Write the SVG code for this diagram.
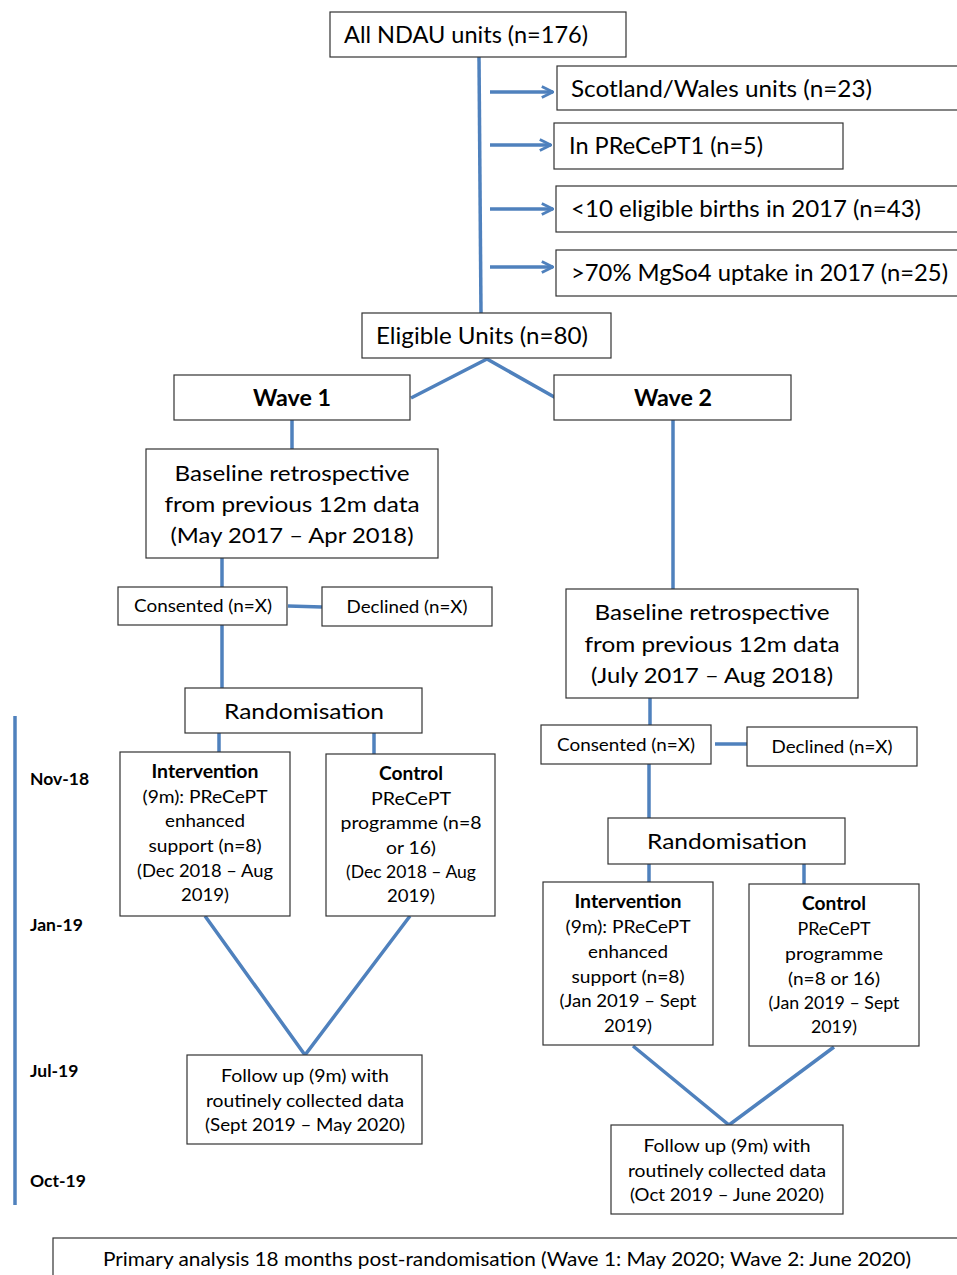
<svg xmlns="http://www.w3.org/2000/svg" width="957" height="1275" viewBox="0 0 957 1275">
<style>
.b{fill:#fff;stroke:#333;stroke-width:1.2}
.c{fill:none;stroke:#4F81BD;stroke-width:3.5}
text{font-family:Lato,"Liberation Sans",sans-serif;fill:#000}
.l{font-size:23px}
.m{font-size:18px;text-anchor:middle}
.t{font-size:22px;text-anchor:middle}
.bo{font-weight:bold}
.tl{font-size:17.5px;font-weight:bold}
</style>
<defs>
<marker id="ah" viewBox="0 0 10 10" refX="9" refY="5" markerWidth="4" markerHeight="4" orient="auto" markerUnits="strokeWidth">
<path d="M1,1 L9,5 L1,9" fill="none" stroke="#4F81BD" stroke-width="2"/>
</marker>
</defs>
<rect width="957" height="1275" fill="#fff"/>
<g id="connectors">
<line class="c" x1="479" y1="57" x2="481" y2="313"/>
<line class="c" x1="490" y1="92" x2="553" y2="92" marker-end="url(#ah)"/>
<line class="c" x1="490" y1="145" x2="551" y2="145" marker-end="url(#ah)"/>
<line class="c" x1="490" y1="209" x2="553" y2="209" marker-end="url(#ah)"/>
<line class="c" x1="490" y1="267" x2="553" y2="267" marker-end="url(#ah)"/>
<polyline class="c" points="411,398 487,359 556,398"/>
<line class="c" x1="292" y1="420" x2="292" y2="449"/>
<line class="c" x1="222" y1="558" x2="222" y2="587"/>
<line class="c" x1="288" y1="606" x2="322" y2="607"/>
<line class="c" x1="222" y1="625" x2="222" y2="688"/>
<line class="c" x1="219" y1="733" x2="219" y2="752"/>
<line class="c" x1="374" y1="733" x2="374" y2="754"/>
<polyline class="c" points="205,916 305,1055 410,916"/>
<line class="c" x1="673" y1="420" x2="673" y2="589"/>
<line class="c" x1="650" y1="698" x2="650" y2="725"/>
<line class="c" x1="715" y1="744" x2="749" y2="744"/>
<line class="c" x1="649" y1="764" x2="649" y2="818"/>
<line class="c" x1="649" y1="864" x2="649" y2="882"/>
<line class="c" x1="804" y1="864" x2="804" y2="884"/>
<polyline class="c" points="633,1046 729,1125 834,1047"/>
</g>
<g id="timeline">
<line class="c" x1="15" y1="716" x2="15" y2="1205"/>
<text class="tl" x="30" y="785">Nov-18</text>
<text class="tl" x="30" y="931">Jan-19</text>
<text class="tl" x="30" y="1077">Jul-19</text>
<text class="tl" x="30" y="1187">Oct-19</text>
</g>
<g id="all">
<rect class="b" x="330" y="12" width="296" height="45"/>
<text class="l" x="344" y="43" textLength="244" lengthAdjust="spacingAndGlyphs">All NDAU units (n=176)</text>
</g>
<g id="ex1">
<rect class="b" x="557" y="66" width="405" height="44"/>
<text class="l" x="571" y="97" textLength="301" lengthAdjust="spacingAndGlyphs">Scotland/Wales units (n=23)</text>
</g>
<g id="ex2">
<rect class="b" x="554" y="123" width="289" height="46"/>
<text class="l" x="569" y="154" textLength="194" lengthAdjust="spacingAndGlyphs">In PReCePT1 (n=5)</text>
</g>
<g id="ex3">
<rect class="b" x="556" y="186" width="406" height="46"/>
<text class="l" x="571" y="217" textLength="350" lengthAdjust="spacingAndGlyphs">&lt;10 eligible births in 2017 (n=43)</text>
</g>
<g id="ex4">
<rect class="b" x="556" y="250" width="406" height="46"/>
<text class="l" x="571" y="281" textLength="377" lengthAdjust="spacingAndGlyphs">&gt;70% MgSo4 uptake in 2017 (n=25)</text>
</g>
<g id="eligible">
<rect class="b" x="362" y="313" width="249" height="45"/>
<text class="l" x="376" y="344" textLength="212" lengthAdjust="spacingAndGlyphs">Eligible Units (n=80)</text>
</g>
<g id="wave1">
<rect class="b" x="174" y="375" width="236" height="45"/>
<text class="t bo" x="292" y="406" textLength="78" lengthAdjust="spacingAndGlyphs">Wave 1</text>
</g>
<g id="wave2">
<rect class="b" x="554" y="375" width="237" height="45"/>
<text class="t bo" x="673" y="406" textLength="78" lengthAdjust="spacingAndGlyphs">Wave 2</text>
</g>
<g id="base1">
<rect class="b" x="146" y="449" width="292" height="109"/>
<text class="t" x="292" y="481" textLength="235" lengthAdjust="spacingAndGlyphs">Baseline retrospective</text>
<text class="t" x="292" y="512" textLength="255" lengthAdjust="spacingAndGlyphs">from previous 12m data</text>
<text class="t" x="292" y="543" textLength="243" lengthAdjust="spacingAndGlyphs">(May 2017 – Apr 2018)</text>
</g>
<g id="cons1">
<rect class="b" x="118" y="587" width="169" height="38"/>
<text class="m" x="203" y="612" textLength="138" lengthAdjust="spacingAndGlyphs">Consented (n=X)</text>
</g>
<g id="decl1">
<rect class="b" x="322" y="587" width="170" height="39"/>
<text class="m" x="407" y="613" textLength="121" lengthAdjust="spacingAndGlyphs">Declined (n=X)</text>
</g>
<g id="rand1">
<rect class="b" x="185" y="688" width="237" height="45"/>
<text class="t" x="304" y="719" textLength="160" lengthAdjust="spacingAndGlyphs">Randomisation</text>
</g>
<g id="int1">
<rect class="b" x="120" y="752" width="170" height="164"/>
<text class="m bo" x="205" y="778" textLength="107" lengthAdjust="spacingAndGlyphs">Intervention</text>
<text class="m" x="205" y="803" textLength="125" lengthAdjust="spacingAndGlyphs">(9m): PReCePT</text>
<text class="m" x="205" y="827" textLength="80" lengthAdjust="spacingAndGlyphs">enhanced</text>
<text class="m" x="205" y="852" textLength="113" lengthAdjust="spacingAndGlyphs">support (n=8)</text>
<text class="m" x="205" y="877" textLength="136" lengthAdjust="spacingAndGlyphs">(Dec 2018 – Aug</text>
<text class="m" x="205" y="901" textLength="48" lengthAdjust="spacingAndGlyphs">2019)</text>
</g>
<g id="ctl1">
<rect class="b" x="326" y="754" width="169" height="162"/>
<text class="m bo" x="411" y="780" textLength="64" lengthAdjust="spacingAndGlyphs">Control</text>
<text class="m" x="411" y="805" textLength="80" lengthAdjust="spacingAndGlyphs">PReCePT</text>
<text class="m" x="411" y="829" textLength="141" lengthAdjust="spacingAndGlyphs">programme (n=8</text>
<text class="m" x="411" y="854" textLength="50" lengthAdjust="spacingAndGlyphs">or 16)</text>
<text class="m" x="411" y="878" textLength="130" lengthAdjust="spacingAndGlyphs">(Dec 2018 – Aug</text>
<text class="m" x="411" y="902" textLength="48" lengthAdjust="spacingAndGlyphs">2019)</text>
</g>
<g id="fu1">
<rect class="b" x="187" y="1055" width="235" height="89"/>
<text class="m" x="305" y="1082" textLength="168" lengthAdjust="spacingAndGlyphs">Follow up (9m) with</text>
<text class="m" x="305" y="1107" textLength="198" lengthAdjust="spacingAndGlyphs">routinely collected data</text>
<text class="m" x="305" y="1131" textLength="200" lengthAdjust="spacingAndGlyphs">(Sept 2019 – May 2020)</text>
</g>
<g id="base2">
<rect class="b" x="566" y="589" width="292" height="109"/>
<text class="t" x="712" y="620" textLength="235" lengthAdjust="spacingAndGlyphs">Baseline retrospective</text>
<text class="t" x="712" y="652" textLength="255" lengthAdjust="spacingAndGlyphs">from previous 12m data</text>
<text class="t" x="712" y="683" textLength="242" lengthAdjust="spacingAndGlyphs">(July 2017 – Aug 2018)</text>
</g>
<g id="cons2">
<rect class="b" x="541" y="725" width="170" height="39"/>
<text class="m" x="626" y="751" textLength="138" lengthAdjust="spacingAndGlyphs">Consented (n=X)</text>
</g>
<g id="decl2">
<rect class="b" x="747" y="727" width="170" height="39"/>
<text class="m" x="832" y="753" textLength="121" lengthAdjust="spacingAndGlyphs">Declined (n=X)</text>
</g>
<g id="rand2">
<rect class="b" x="608" y="818" width="237" height="46"/>
<text class="t" x="727" y="849" textLength="160" lengthAdjust="spacingAndGlyphs">Randomisation</text>
</g>
<g id="int2">
<rect class="b" x="543" y="882" width="170" height="163"/>
<text class="m bo" x="628" y="908" textLength="107" lengthAdjust="spacingAndGlyphs">Intervention</text>
<text class="m" x="628" y="933" textLength="125" lengthAdjust="spacingAndGlyphs">(9m): PReCePT</text>
<text class="m" x="628" y="958" textLength="80" lengthAdjust="spacingAndGlyphs">enhanced</text>
<text class="m" x="628" y="983" textLength="113" lengthAdjust="spacingAndGlyphs">support (n=8)</text>
<text class="m" x="628" y="1007" textLength="137" lengthAdjust="spacingAndGlyphs">(Jan 2019 – Sept</text>
<text class="m" x="628" y="1032" textLength="48" lengthAdjust="spacingAndGlyphs">2019)</text>
</g>
<g id="ctl2">
<rect class="b" x="749" y="884" width="170" height="162"/>
<text class="m bo" x="834" y="910" textLength="64" lengthAdjust="spacingAndGlyphs">Control</text>
<text class="m" x="834" y="935" textLength="73" lengthAdjust="spacingAndGlyphs">PReCePT</text>
<text class="m" x="834" y="960" textLength="98" lengthAdjust="spacingAndGlyphs">programme</text>
<text class="m" x="834" y="985" textLength="92" lengthAdjust="spacingAndGlyphs">(n=8 or 16)</text>
<text class="m" x="834" y="1009" textLength="131" lengthAdjust="spacingAndGlyphs">(Jan 2019 – Sept</text>
<text class="m" x="834" y="1033" textLength="46" lengthAdjust="spacingAndGlyphs">2019)</text>
</g>
<g id="fu2">
<rect class="b" x="611" y="1125" width="232" height="89"/>
<text class="m" x="727" y="1152" textLength="167" lengthAdjust="spacingAndGlyphs">Follow up (9m) with</text>
<text class="m" x="727" y="1177" textLength="198" lengthAdjust="spacingAndGlyphs">routinely collected data</text>
<text class="m" x="727" y="1201" textLength="194" lengthAdjust="spacingAndGlyphs">(Oct 2019 – June 2020)</text>
</g>
<g id="primary">
<rect class="b" x="53" y="1238" width="920" height="60"/>
<text class="m" x="507" y="1266" style="font-size:20px" textLength="808" lengthAdjust="spacingAndGlyphs">Primary analysis 18 months post-randomisation (Wave 1: May 2020; Wave 2: June 2020)</text>
</g>
</svg>
